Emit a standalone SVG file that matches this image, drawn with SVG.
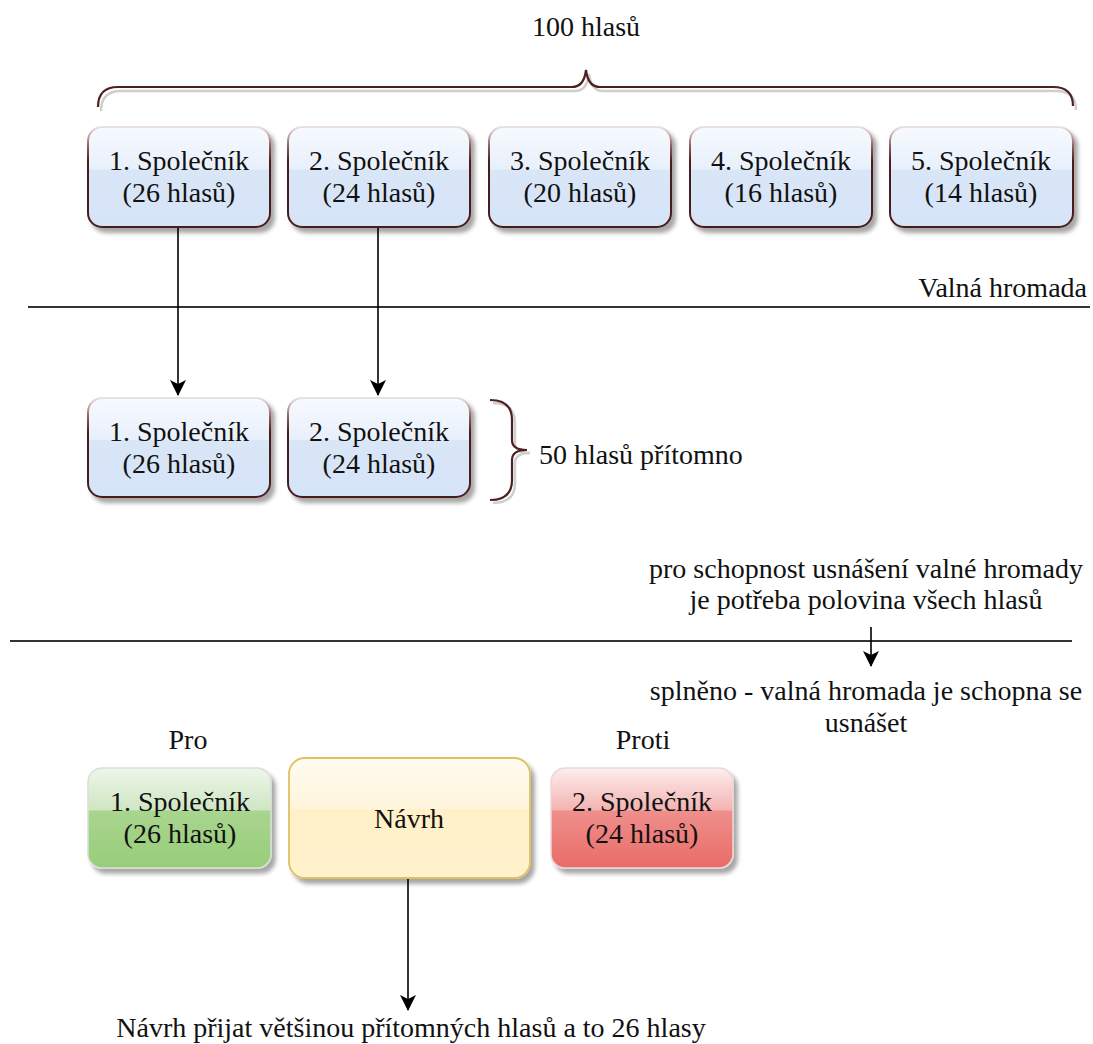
<svg xmlns="http://www.w3.org/2000/svg" width="1093" height="1044" viewBox="0 0 1093 1044" font-family="'Liberation Serif', 'DejaVu Serif', serif">
<style>
text{font-family:'Liberation Serif','DejaVu Serif',serif;font-size:28px;fill:#111;}
.c{text-anchor:middle;}
.hl{stroke:#333;stroke-width:2.2;fill:none;}
.ar{stroke:#000;stroke-width:1.6;fill:none;marker-end:url(#ah);}
.br{stroke:#4e2020;stroke-width:2.2;fill:none;}
.brs{stroke:#cfcfcf;stroke-width:2.5;fill:none;}
</style>
<defs>
<filter id="sh" x="-10%" y="-10%" width="130%" height="130%">
<feGaussianBlur in="SourceAlpha" stdDeviation="2"/>
<feOffset dx="4" dy="5" result="o"/>
<feComponentTransfer><feFuncA type="linear" slope="0.35"/></feComponentTransfer>
<feMerge><feMergeNode/><feMergeNode in="SourceGraphic"/></feMerge>
</filter>
<linearGradient id="gBlue" x1="0" y1="0" x2="0" y2="1">
<stop offset="0" stop-color="#f7faff"/>
<stop offset="0.42" stop-color="#e8f0fb"/>
<stop offset="0.43" stop-color="#d9e6f8"/>
<stop offset="1" stop-color="#d6e4f7"/>
</linearGradient>
<linearGradient id="sBlue" x1="0" y1="0" x2="0" y2="1">
<stop offset="0" stop-color="#ece2e2"/>
<stop offset="0.2" stop-color="#8a5a5a"/>
<stop offset="0.35" stop-color="#4a1c1c"/>
<stop offset="1" stop-color="#4a1c1c"/>
</linearGradient>
<linearGradient id="gGreen" x1="0" y1="0" x2="0" y2="1">
<stop offset="0" stop-color="#eef6ea"/>
<stop offset="0.42" stop-color="#cfe6c2"/>
<stop offset="0.43" stop-color="#a9d58f"/>
<stop offset="1" stop-color="#97cd78"/>
</linearGradient>
<linearGradient id="gYellow" x1="0" y1="0" x2="0" y2="1">
<stop offset="0" stop-color="#fffbf0"/>
<stop offset="0.42" stop-color="#fff5dc"/>
<stop offset="0.43" stop-color="#fff0c8"/>
<stop offset="1" stop-color="#fff2cc"/>
</linearGradient>
<linearGradient id="gRed" x1="0" y1="0" x2="0" y2="1">
<stop offset="0" stop-color="#fdeeee"/>
<stop offset="0.42" stop-color="#f3b3b1"/>
<stop offset="0.43" stop-color="#ef8f8c"/>
<stop offset="1" stop-color="#e96b67"/>
</linearGradient>
<marker id="ah" viewBox="0 0 16 16" markerWidth="16" markerHeight="16" refX="15" refY="8" orient="auto" markerUnits="userSpaceOnUse">
<path d="M0,0 L16,8 L0,16 L4,8 z" fill="#000"/>
</marker>
</defs>

<!-- braces and labels -->
<g id="brace-top">
<path class="brs" d="M101,111 Q101,91 121,91 L575,91 Q587,91 589,74 Q591,91 603,91 L1056,91 Q1076,91 1076,110"/>
<path class="br" d="M98,107 Q98,87 118,87 L572,87 Q584,87 586,70 Q588,87 600,87 L1053,87 Q1073,87 1073,106"/>
<text class="c" x="586" y="36">100 hlasů</text>
</g>
<g id="brace-present">
<path class="brs" d="M493,403 Q515,403 515,423 L515,443 Q515,453 530,453 Q515,453 515,463 L515,483 Q515,503 493,503"/>
<path class="br" d="M490,400 Q512,400 512,420 L512,440 Q512,450 527,450 Q512,450 512,460 L512,480 Q512,500 490,500"/>
<text x="539" y="464">50 hlasů přítomno</text>
</g>

<g id="separators">
<line class="hl" x1="28" y1="307" x2="1090" y2="307"/>
<line class="hl" x1="10" y1="641" x2="1072" y2="641"/>
</g>

<g id="labels">
<text x="1087" y="297" text-anchor="end">Valná hromada</text>
<text class="c" x="866" y="578">pro schopnost usnášení valné hromady</text>
<text class="c" x="866" y="609">je potřeba polovina všech hlasů</text>
<text class="c" x="866" y="700">splněno - valná hromada je schopna se</text>
<text class="c" x="866" y="732">usnášet</text>
<text class="c" x="188" y="749">Pro</text>
<text class="c" x="643" y="749">Proti</text>
<text class="c" x="411" y="1037">Návrh přijat většinou přítomných hlasů a to 26 hlasy</text>
</g>

<!-- top row -->
<g id="s1">
<rect x="88" y="127" width="182" height="100" rx="14" fill="url(#gBlue)" stroke="url(#sBlue)" stroke-width="2" filter="url(#sh)"/>
<text class="c" x="179" y="170">1. Společník</text><text class="c" x="179" y="202">(26 hlasů)</text>
</g>
<g id="s2">
<rect x="288" y="127" width="182" height="100" rx="14" fill="url(#gBlue)" stroke="url(#sBlue)" stroke-width="2" filter="url(#sh)"/>
<text class="c" x="379" y="170">2. Společník</text><text class="c" x="379" y="202">(24 hlasů)</text>
</g>
<g id="s3">
<rect x="489" y="127" width="182" height="100" rx="14" fill="url(#gBlue)" stroke="url(#sBlue)" stroke-width="2" filter="url(#sh)"/>
<text class="c" x="580" y="170">3. Společník</text><text class="c" x="580" y="202">(20 hlasů)</text>
</g>
<g id="s4">
<rect x="690" y="127" width="182" height="100" rx="14" fill="url(#gBlue)" stroke="url(#sBlue)" stroke-width="2" filter="url(#sh)"/>
<text class="c" x="781" y="170">4. Společník</text><text class="c" x="781" y="202">(16 hlasů)</text>
</g>
<g id="s5">
<rect x="890" y="127" width="183" height="100" rx="14" fill="url(#gBlue)" stroke="url(#sBlue)" stroke-width="2" filter="url(#sh)"/>
<text class="c" x="981" y="170">5. Společník</text><text class="c" x="981" y="202">(14 hlasů)</text>
</g>

<!-- present row -->
<g id="p1">
<rect x="88" y="398" width="182" height="99" rx="14" fill="url(#gBlue)" stroke="url(#sBlue)" stroke-width="2" filter="url(#sh)"/>
<text class="c" x="179" y="441">1. Společník</text><text class="c" x="179" y="473">(26 hlasů)</text>
</g>
<g id="p2">
<rect x="288" y="398" width="182" height="99" rx="14" fill="url(#gBlue)" stroke="url(#sBlue)" stroke-width="2" filter="url(#sh)"/>
<text class="c" x="379" y="441">2. Společník</text><text class="c" x="379" y="473">(24 hlasů)</text>
</g>

<!-- vote row -->
<g id="pro">
<rect x="88" y="768" width="183" height="100" rx="14" fill="url(#gGreen)" stroke="#d9dfd6" stroke-width="1.5" filter="url(#sh)"/>
<text class="c" x="180" y="811">1. Společník</text><text class="c" x="180" y="843">(26 hlasů)</text>
</g>
<g id="navrh">
<rect x="289" y="758" width="241" height="120" rx="16" fill="url(#gYellow)" stroke="#e0c060" stroke-width="1.8" filter="url(#sh)"/>
<text class="c" x="409" y="828">Návrh</text>
</g>
<g id="proti">
<rect x="551" y="768" width="182" height="100" rx="14" fill="url(#gRed)" stroke="#ead8d8" stroke-width="1.5" filter="url(#sh)"/>
<text class="c" x="642" y="811">2. Společník</text><text class="c" x="642" y="843">(24 hlasů)</text>
</g>

<g id="connectors">
<line class="ar" x1="178" y1="228" x2="178" y2="395"/>
<line class="ar" x1="378" y1="228" x2="378" y2="395"/>
<line class="ar" x1="871" y1="627" x2="871" y2="666"/>
<line class="ar" x1="408" y1="879" x2="408" y2="1010"/>
</g>
</svg>
